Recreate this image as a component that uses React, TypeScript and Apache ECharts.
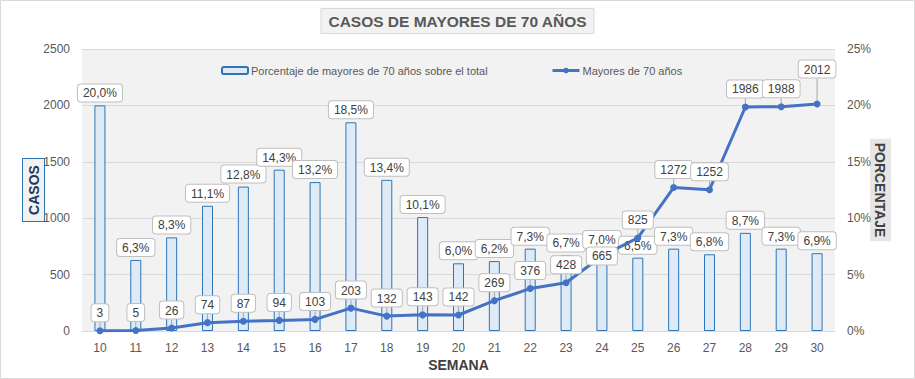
import React, { useEffect, useRef } from "react";
import * as echarts from "echarts";

const weeks = ["10","11","12","13","14","15","16","17","18","19","20","21","22","23","24","25","26","27","28","29","30"];
const percentages = [20.0, 6.3, 8.3, 11.1, 12.8, 14.3, 13.2, 18.5, 13.4, 10.1, 6.0, 6.2, 7.3, 6.7, 7.0, 6.5, 7.3, 6.8, 8.7, 7.3, 6.9];
const cases = [3, 5, 26, 74, 87, 94, 103, 203, 132, 143, 142, 269, 376, 428, 665, 825, 1272, 1252, 1986, 1988, 2012];
const leftTicks = [0, 500, 1000, 1500, 2000, 2500];
const rightTicksPct = [0, 5, 10, 15, 20, 25];

const FONT = "'Liberation Sans', 'Noto Sans', sans-serif";

const labelBox = {
  show: true,
  color: "#404040",
  fontFamily: FONT,
  fontSize: 12,
  backgroundColor: "#ffffff",
  borderColor: "#bfbfbf",
  borderWidth: 1,
  borderRadius: 3,
  padding: [3, 5, 2, 5],
};

export default function App() {
  const ref = useRef<HTMLDivElement>(null);
  useEffect(() => {
    document.body.style.margin = "0";
    if (!ref.current) return;
    const chart = echarts.init(ref.current, null, { renderer: "svg" });
    const lastIdx = cases.length - 1;
    const lineData = cases.map((v) => {
      if (v === 665) {
        return { value: v, label: { position: "inside", offset: [0, 6] } };
      }
      return v;
    });
    chart.setOption({
      animation: false,
      backgroundColor: "#ffffff",
      textStyle: { fontFamily: FONT },
      graphic: [
        {
          type: "rect",
          shape: { x: 0.5, y: 0.5, width: 914, height: 378 },
          style: { fill: "none", stroke: "#d9d9d9", lineWidth: 1 },
          silent: true,
          z: 100,
        },
      ],
      title: {
        text: "CASOS DE MAYORES DE 70 AÑOS",
        left: "center",
        top: 8,
        padding: [5, 7, 5, 7],
        backgroundColor: "#f2f2f2",
        borderColor: "#d9d9d9",
        borderWidth: 1,
        textStyle: {
          fontFamily: FONT,
          fontSize: 15.5,
          fontWeight: "bold",
          color: "#595959",
        },
      },
      legend: [
        {
          data: ["Porcentaje de mayores de 70 años sobre el total"],
          left: 221,
          top: 65,
          padding: 0,
          itemWidth: 26,
          itemHeight: 7,
          itemGap: 4,
          textStyle: { fontFamily: FONT, fontSize: 11, color: "#595959", padding: [0, 0, 0, -2] },
        },
        {
          data: ["Mayores de 70 años"],
          left: 551,
          top: 65,
          padding: 0,
          itemWidth: 27,
          itemHeight: 7,
          lineStyle: { width: 3 },
          textStyle: { fontFamily: FONT, fontSize: 11, color: "#595959", padding: [0, 0, 0, -2] },
        },
      ],
      grid: {
        left: 82,
        right: 80,
        top: 49,
        bottom: 48,
        outerBoundsMode: "none",
        show: true,
        backgroundColor: "#f2f2f2",
        borderWidth: 0,
      },
      xAxis: {
        type: "category",
        data: weeks,
        name: "SEMANA",
        nameLocation: "middle",
        nameGap: 27,
        nameMoveOverlap: false,
        nameTextStyle: { fontFamily: FONT, fontSize: 14, fontWeight: "bold", color: "#404040" },
        axisLine: { lineStyle: { color: "#d9d9d9" } },
        axisTick: { show: false },
        axisLabel: { color: "#595959", fontSize: 12, margin: 11, fontFamily: FONT },
      },
      yAxis: [
        {
          type: "value",
          min: 0,
          max: leftTicks[leftTicks.length - 1],
          interval: 500,
          name: "CASOS",
          nameLocation: "middle",
          nameRotate: 90,
          nameGap: 38,
          nameMoveOverlap: false,
          nameTextStyle: {
            fontFamily: FONT,
            fontSize: 14,
            fontWeight: "bold",
            color: "#1f3864",
            backgroundColor: "#f2f2f2",
            borderColor: "#2e75b6",
            borderWidth: 1,
            padding: [4, 6, 3, 6],
          },
          axisLine: { show: false },
          axisTick: { show: false },
          axisLabel: {
            color: "#595959",
            fontSize: 12,
            margin: 12,
            fontFamily: FONT,
            formatter: (v: number) => String(v),
          },
          splitLine: { lineStyle: { color: "#d9d9d9" } },
        },
        {
          type: "value",
          min: 0,
          max: rightTicksPct[rightTicksPct.length - 1],
          interval: 5,
          name: "PORCENTAJE",
          nameLocation: "middle",
          nameRotate: -90,
          nameGap: 35,
          nameMoveOverlap: false,
          nameTextStyle: {
            fontFamily: FONT,
            fontSize: 14,
            fontWeight: "bold",
            color: "#404040",
            backgroundColor: "#e7e6e6",
            padding: [4, 4, 3, 4],
          },
          axisLine: { show: false },
          axisTick: { show: false },
          axisLabel: {
            color: "#595959",
            fontSize: 12,
            margin: 12,
            fontFamily: FONT,
            formatter: (v: number) => v + "%",
          },
          splitLine: { show: false },
        },
      ],
      series: [
        {
          name: "Porcentaje de mayores de 70 años sobre el total",
          type: "bar",
          yAxisIndex: 1,
          data: percentages,
          barWidth: 11,
          itemStyle: { color: "#deebf7", borderColor: "#2e75b6", borderWidth: 1 },
          label: {
            ...labelBox,
            position: "top",
            distance: 4,
            formatter: (p: any) => p.value.toFixed(1).replace(".", ",") + "%",
          },
          z: 2,
        },
        {
          name: "Mayores de 70 años",
          type: "line",
          yAxisIndex: 0,
          data: lineData,
          symbol: "circle",
          symbolSize: 7,
          lineStyle: { color: "#4472c4", width: 3 },
          itemStyle: { color: "#4472c4" },
          label: { ...labelBox, position: "top", distance: 6 },
          labelLayout: (params: any) => (params.dataIndex === lastIdx ? { dy: -17 } : {}),
          labelLine: { show: true, lineStyle: { color: "#a6a6a6", width: 1 } },
          z: 3,
        },
      ],
    });
    return () => chart.dispose();
  }, []);
  return <div ref={ref} style={{ width: 915, height: 379 }} />;
}
